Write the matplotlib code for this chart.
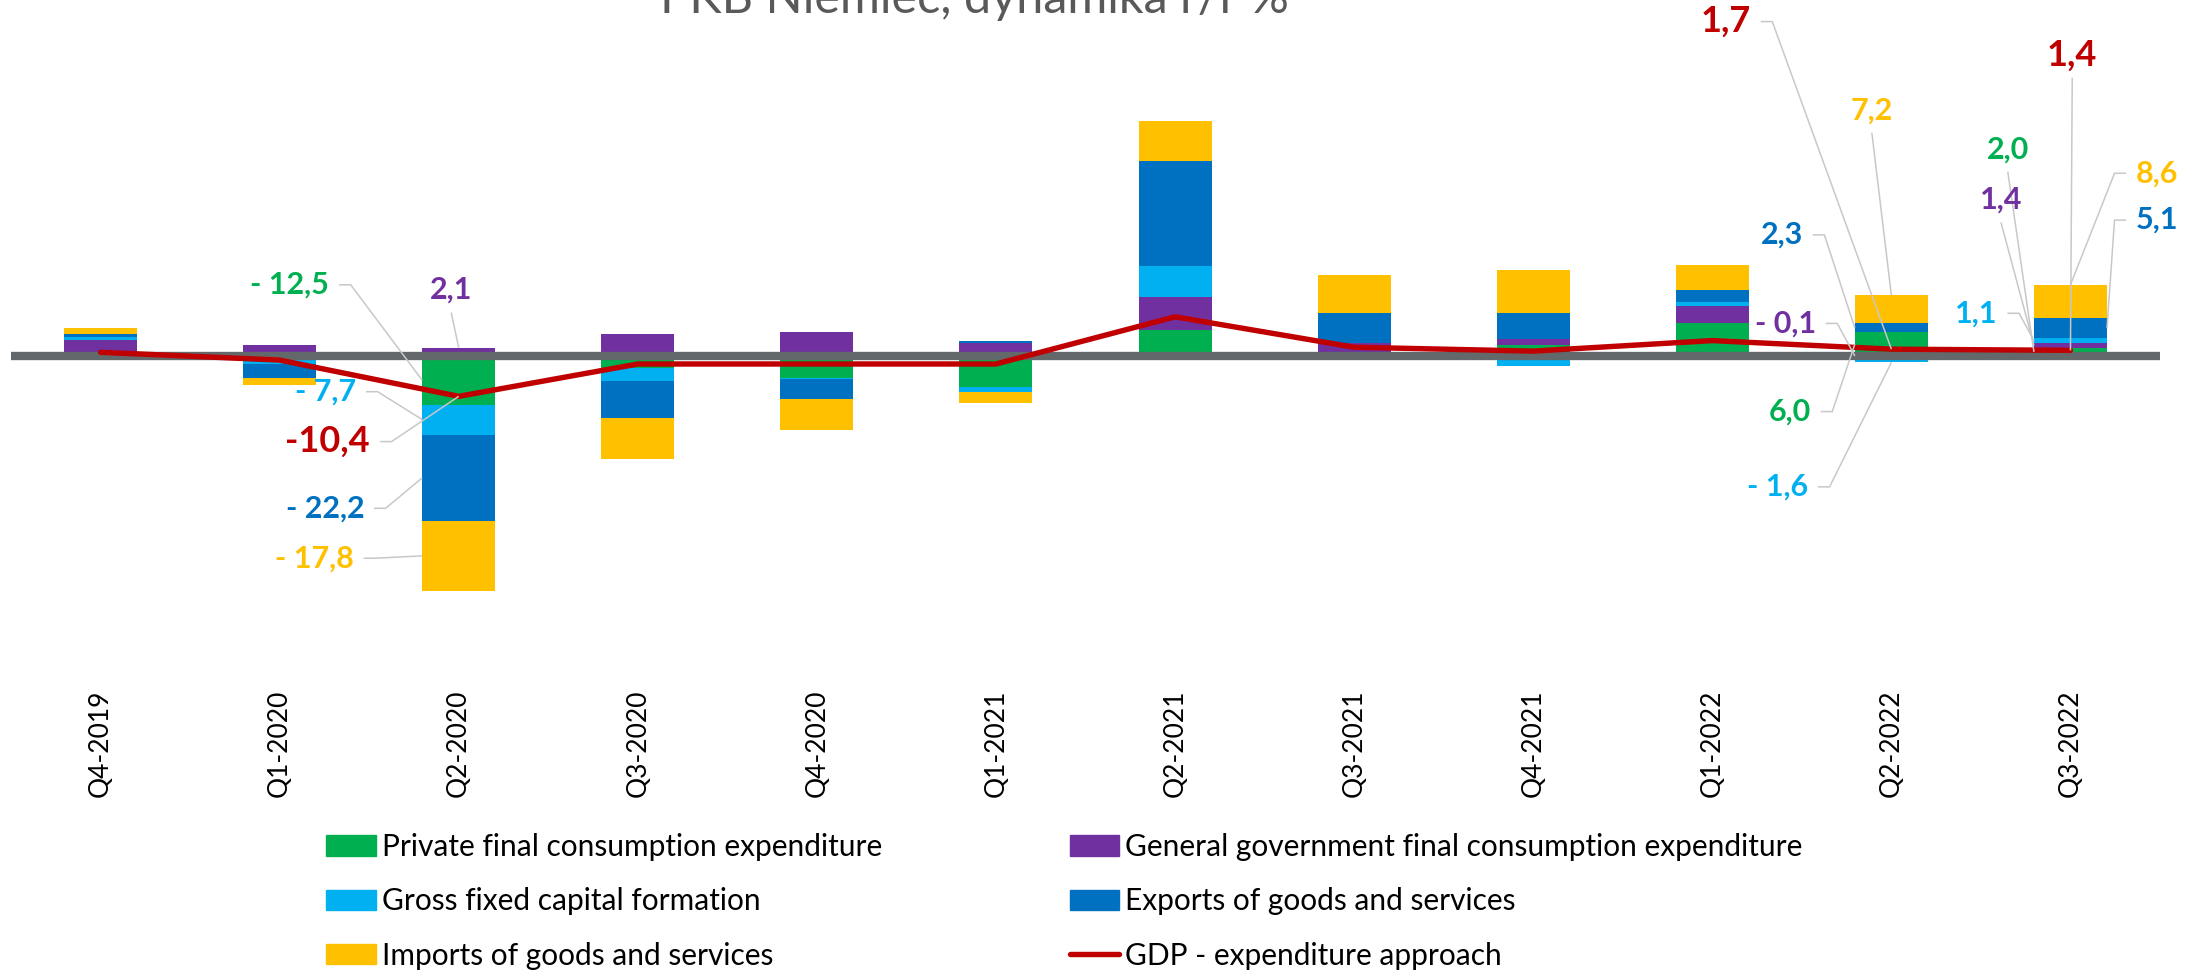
import numpy as np
import matplotlib.pyplot as plt
from matplotlib.patches import Patch
from matplotlib.lines import Line2D

plt.rcParams['font.family'] = ['Lato', 'DejaVu Sans']

# data (y/y %)
quarters = ['Q4-2019', 'Q1-2020', 'Q2-2020', 'Q3-2020', 'Q4-2020', 'Q1-2021',
            'Q2-2021', 'Q3-2021', 'Q4-2021', 'Q1-2022', 'Q2-2022', 'Q3-2022']
private = [1.1, -1.0, -12.5, -3.2, -5.6, -8.1, 6.5, 1.0, 2.7, 8.5, 6.0, 2.0]
government = [3.0, 2.8, 2.1, 5.6, 6.2, 3.2, 8.5, 2.3, 1.5, 4.3, -0.1, 1.4]
investment = [0.8, -1.1, -7.7, -3.3, -0.4, -1.1, 7.9, -0.5, -2.6, 1.1, -1.6, 1.1]
exports = [0.6, -3.7, -22.2, -9.5, -5.0, 0.7, 27.1, 7.8, 6.8, 3.0, 2.3, 5.1]
imports = [1.7, -1.7, -17.8, -10.4, -8.0, -3.0, 10.2, 9.7, 11.1, 6.4, 7.2, 8.6]
gdp = [0.9, -1.1, -10.4, -2.1, -2.1, -2.1, 10.0, 2.2, 1.2, 3.9, 1.7, 1.4]

series = [
    ('priv', 'Private final consumption expenditure', private, '#00b050'),
    ('gov', 'General government final consumption expenditure', government, '#7030a0'),
    ('inv', 'Gross fixed capital formation', investment, '#00b0f0'),
    ('exp', 'Exports of goods and services', exports, '#0070c0'),
    ('imp', 'Imports of goods and services', imports, '#ffc000'),
]
gdp_label = 'GDP - expenditure approach'
gdp_color = '#c00000'

# figure in pixels: 2202 x 973
W, H = 2202, 973
fig = plt.figure(figsize=(W / 100, H / 100), dpi=100)
ax_bottom = 680
ax = fig.add_axes([11 / W, 1 - ax_bottom / H, 2149 / W, ax_bottom / H])

x = np.arange(len(quarters))
width = 0.408
pos_base = np.zeros(len(x))
neg_base = np.zeros(len(x))
segs = {}
colors = {}
for key, name, vals, col in series:
    v = np.array(vals)
    base = np.where(v >= 0, pos_base, neg_base)
    ax.bar(x, v, width, bottom=base, color=col, zorder=2)
    segs[key] = (base, base + v)
    colors[key] = col
    pos_base += np.where(v >= 0, v, 0)
    neg_base += np.where(v < 0, v, 0)
colors['gdp'] = gdp_color

# zero line and gdp line
ax.axhline(0, color='#63686b', lw=6, zorder=3)
ax.plot(x, gdp, color=gdp_color, lw=3.9, solid_capstyle='round',
        solid_joinstyle='round', zorder=4)

zero_px = 355.8
ppu = 3.9
ax.set_xlim(-0.5, len(x) - 0.5)
ax.set_ylim(-(ax_bottom - zero_px) / ppu, zero_px / ppu)

for s in ax.spines.values():
    s.set_visible(False)
ax.set_yticks([])
ax.set_xticks(x, quarters, rotation=90, fontsize=19)
ax.tick_params(axis='x', length=0, pad=7)

# data labels with leader lines
values = {key: vals for key, name, vals, col in series}
values['gdp'] = gdp


def fmt(v, key):
    s = f'{abs(v):.1f}'.replace('.', ',')
    if v < 0:
        s = ('-' if key == 'gdp' else '- ') + s
    return s


# (series, quarter index, text x, text y, alignment, anchor)
labels = [
    ('priv', 2, 1.277, 18.2, 'right', 'left'),
    ('gov', 2, 1.958, 16.9, 'center', 'end'),
    ('inv', 2, 1.427, -9.2, 'right', 'left'),
    ('gdp', 2, 1.505, -22.0, 'right', 'line'),
    ('exp', 2, 1.472, -39.1, 'right', 'left'),
    ('imp', 2, 1.414, -51.9, 'right', 'left'),
    ('gdp', 10, 9.215, 85.7, 'right', 'line'),
    ('imp', 10, 9.891, 63.0, 'center', 'end'),
    ('exp', 10, 9.506, 31.0, 'right', 'left'),
    ('gov', 10, 9.578, 8.3, 'right', 'left'),
    ('priv', 10, 9.550, -14.3, 'right', 'left'),
    ('inv', 10, 9.535, -33.6, 'right', 'end'),
    ('gdp', 11, 11.010, 77.1, 'center', 'line'),
    ('priv', 11, 10.650, 53.0, 'center', 'left'),
    ('gov', 11, 10.612, 40.0, 'center', 'left'),
    ('inv', 11, 10.593, 10.9, 'right', 'left'),
    ('imp', 11, 11.366, 46.8, 'left', 'end'),
    ('exp', 11, 11.366, 34.8, 'left', 'right'),
]

gap, stub, drop = 0.055, 0.065, 5.8
leader = dict(color='#c8c8c8', lw=1.1, zorder=5, solid_capstyle='butt')
for key, i, tx, ty, ha, anchor in labels:
    if anchor == 'line':
        ap = (i, gdp[i])
    else:
        b, t = segs[key]
        mid = (b[i] + t[i]) / 2
        if anchor == 'left':
            ap = (i - width / 2, mid)
        elif anchor == 'right':
            ap = (i + width / 2, mid)
        else:
            ap = (i, t[i])
    if ha == 'right':
        pts = [(tx + gap, ty), (tx + gap + stub, ty), ap]
    elif ha == 'left':
        pts = [(tx - gap, ty), (tx - gap - stub, ty), ap]
    else:
        pts = [(tx, ty - drop), ap]
    px, py = zip(*pts)
    ax.plot(px, py, **leader)
    ax.text(tx, ty, fmt(values[key][i], key), ha=ha, va='center',
            fontsize=26 if key == 'gdp' else 22, fontweight='bold',
            color=colors[key], zorder=6, clip_on=False)

# title (cut off at the top as in the original)
fig.text(974.5 / W, 1 - 13 / H, 'PKB Niemiec, dynamika r/r %', ha='center',
         va='baseline', fontsize=35, color='#595959', fontweight='normal')

# legend, filled column by column
handles = {key: Patch(color=col) for key, name, vals, col in series}
names = {key: name for key, name, vals, col in series}
order = ['priv', 'inv', 'imp', 'gov', 'exp']
hl = [handles[k] for k in order]
ll = [names[k] for k in order]
hl.append(Line2D([], [], color=gdp_color, lw=3.9, solid_capstyle='round'))
ll.append(gdp_label)
fig.legend(hl, ll, ncol=2, loc='upper left', bbox_to_anchor=(326 / W, 1 - 833 / H),
           frameon=False, fontsize=21.5, handlelength=1.66, handleheight=0.67,
           handletextpad=0.2, columnspacing=6.3, labelspacing=0.88,
           borderpad=0, borderaxespad=0)

fig.savefig('out.png', dpi=100)
